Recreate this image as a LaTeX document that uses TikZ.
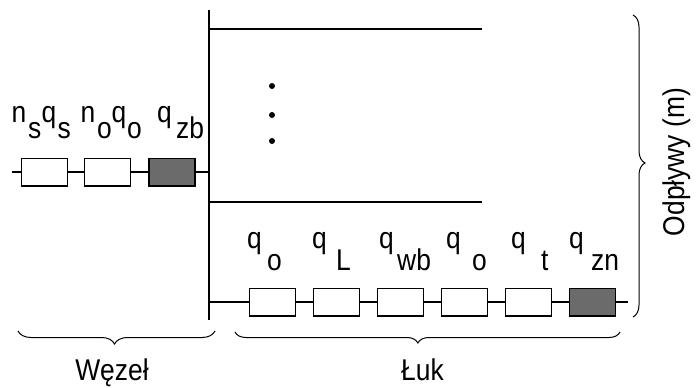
\documentclass[tikz,border=0pt]{standalone}
\usepackage{fontspec}
\setmainfont{Liberation Sans}
\newfontfamily\narrowsans[FakeStretch=0.88]{Liberation Sans}
\usetikzlibrary{decorations.pathreplacing}
\newcommand\gl[2]{\makebox[#1][l]{#2}}
\newcommand\lowL[1]{\raisebox{-16pt}{#1}}
\newcommand\lowB[1]{\raisebox{-22pt}{#1}}
\begin{document}
\begin{tikzpicture}[x=1pt,y=-1pt,
  wire/.style={line width=1.5pt, black},
  elem/.style={draw=black, line width=1.5pt, minimum width=46pt, minimum height=27.5pt, inner sep=0pt, fill=white},
  elemdark/.style={elem, fill=black!58},
  lbl/.style={inner sep=0pt, anchor=base west, font=\narrowsans\fontsize{30}{34}\selectfont},
  txt/.style={inner sep=0pt, font=\narrowsans\fontsize{30}{34}\selectfont},
  brc/.style={decorate, line width=1pt, black},
  bigdot/.style={circle, fill=black, inner sep=0pt, minimum size=6pt}]

\useasboundingbox (0,0) rectangle (696,388);

% trunk and outflow lines
\coordinate (vtop) at (209,10);
\coordinate (vbot) at (209,320);
\draw[wire] (vtop) -- (vbot);
\coordinate (r1a) at (209,29);  \coordinate (r1b) at (482,29);
\coordinate (r2a) at (209,202); \coordinate (r2b) at (482,202);
\draw[wire] (r1a) -- (r1b);
\draw[wire] (r2a) -- (r2b);

\node[bigdot] (d1) at (272,86) {};
\node[bigdot] (d2) at (272,115) {};
\node[bigdot] (d3) at (272,141) {};

% node chain (left)
\coordinate (ls) at (12,172);
\coordinate (lj) at (209,172);
\node[elem] (n1) at (44.5,172) {};
\node[elem] (n2) at (107.5,172) {};
\node[elemdark] (n3) at (172,172) {};
\draw[wire] (ls) -- (n1);
\draw[wire] (n1) -- (n2);
\draw[wire] (n2) -- (n3);
\draw[wire] (n3) -- (lj);

% arc chain (bottom)
\coordinate (bj) at (209,302);
\coordinate (be) at (628,302);
\node[elem] (b1) at (272.5,302) {};
\node[elem] (b2) at (336.5,302) {};
\node[elem] (b3) at (400.5,302) {};
\node[elem] (b4) at (464.5,302) {};
\node[elem] (b5) at (528.5,302) {};
\node[elemdark] (b6) at (592.5,302) {};
\draw[wire] (bj) -- (b1);
\draw[wire] (b1) -- (b2);
\draw[wire] (b2) -- (b3);
\draw[wire] (b3) -- (b4);
\draw[wire] (b4) -- (b5);
\draw[wire] (b5) -- (b6);
\draw[wire] (b6) -- (be);

% labels left
\node[lbl] (lab1) at (11.5,122) {\gl{16.5pt}{n}\gl{13.5pt}{\lowL{s}}\gl{16pt}{q}\lowL{s}};
\node[lbl] (lab2) at (80.5,122) {\gl{16.5pt}{n}\gl{14.5pt}{\lowL{o}}\gl{15.5pt}{q}\lowL{o}};
\node[lbl] (lab3) at (157,122)  {\gl{19pt}{q}\lowL{zb}};

% labels bottom
\node[lbl] (c1) at (247,248) {\gl{20pt}{q}\lowB{o}};
\node[lbl] (c2) at (312,248) {\gl{24pt}{q}\lowB{L}};
\node[lbl] (c3) at (379,248) {\gl{18pt}{q}\lowB{wb}};
\node[lbl] (c4) at (446,248) {\gl{26pt}{q}\lowB{o}};
\node[lbl] (c5) at (511,248) {\gl{30pt}{q}\lowB{t}};
\node[lbl] (c6) at (569,248) {\gl{22pt}{q}\lowB{zn}};

% braces
\coordinate (wa) at (215,331); \coordinate (wb) at (18,331);
\draw[brc, decoration={brace, amplitude=13pt, aspect=0.51}] (wa) -- (wb);
\coordinate (la) at (620,332); \coordinate (lb) at (235,332);
\draw[brc, decoration={brace, amplitude=11pt, aspect=0.525}] (la) -- (lb);
\coordinate (ra) at (633,15); \coordinate (rb) at (633,317);
\draw[brc, decoration={brace, amplitude=12pt, aspect=0.49}] (ra) -- (rb);

\node[txt, anchor=base] (wz) at (112,380) {Węzeł};
\node[txt, anchor=base] (lk) at (422.5,380) {Łuk};
\node[txt, rotate=90] (od) at (677,162) {Odpływy (m)};
\end{tikzpicture}
\end{document}
